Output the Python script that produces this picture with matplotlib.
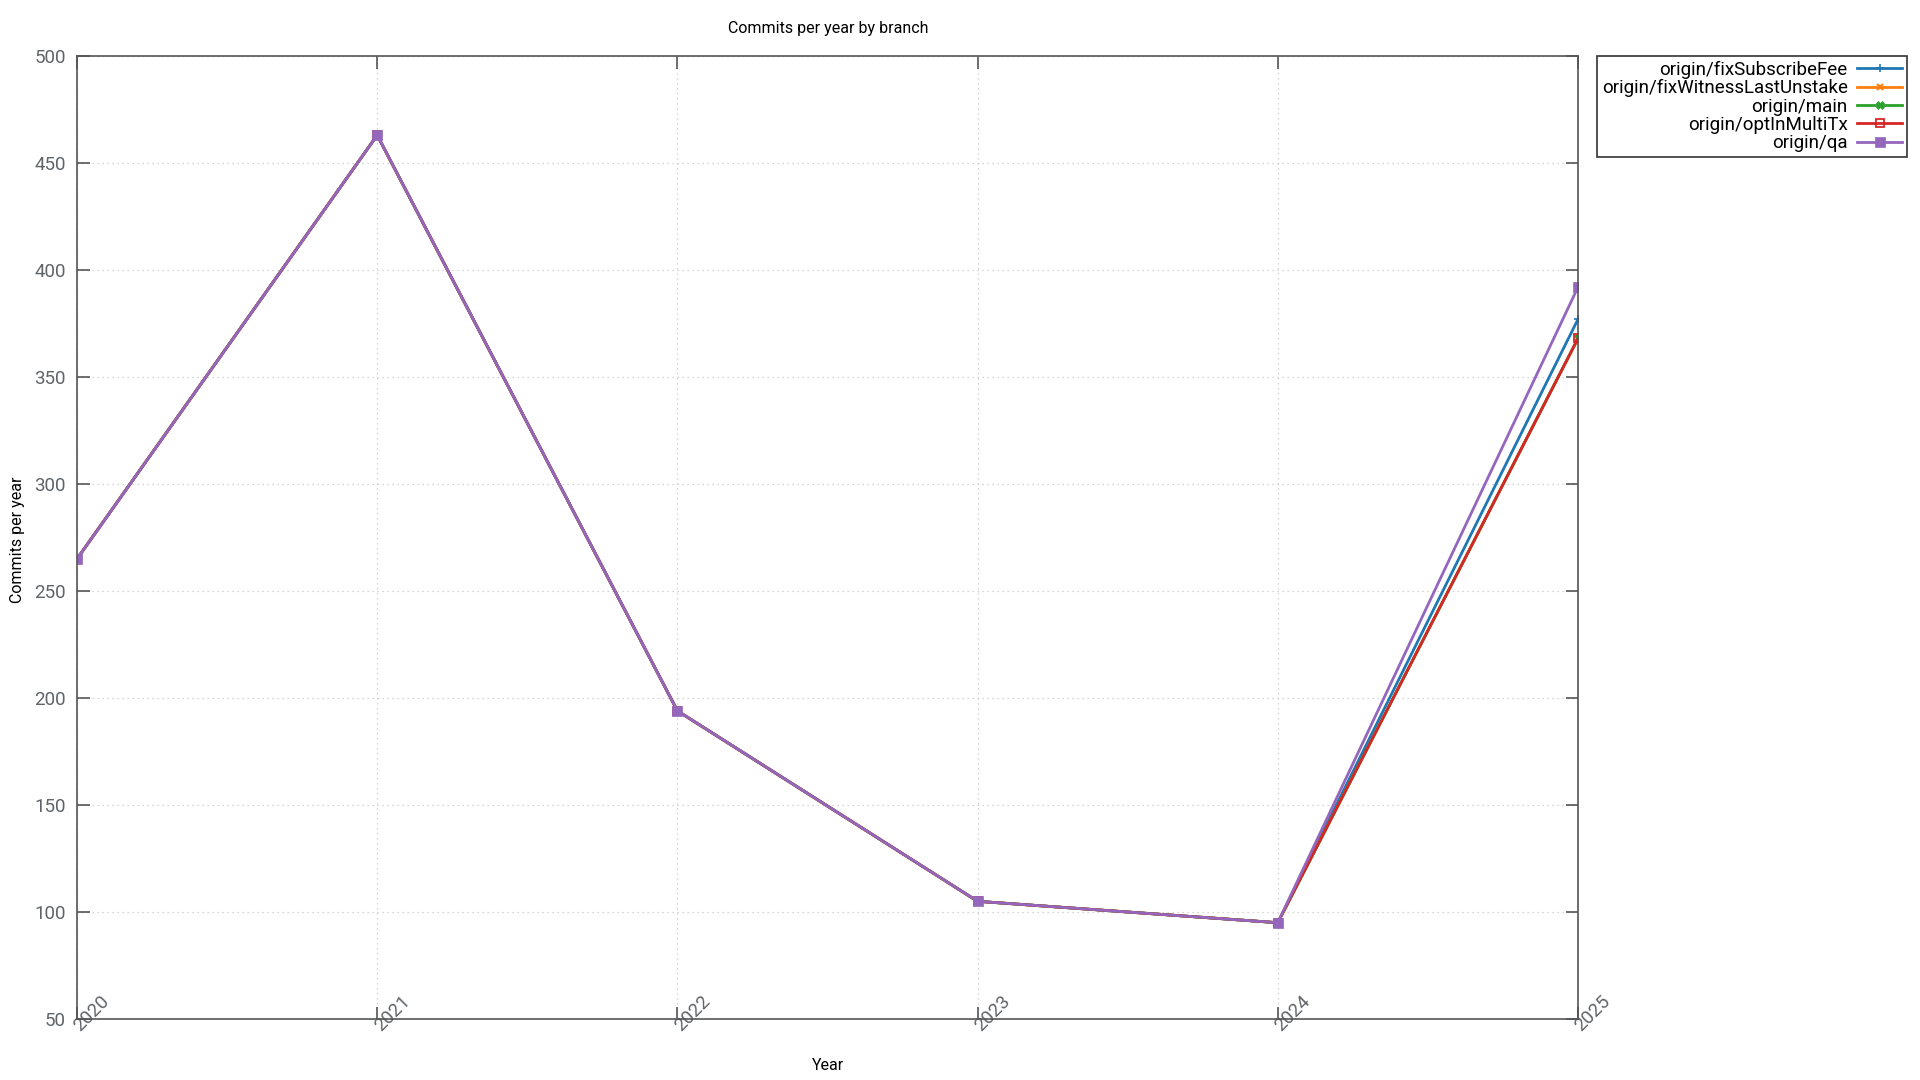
import matplotlib
matplotlib.use("Agg")
import matplotlib.pyplot as plt
from matplotlib.transforms import ScaledTranslation

plt.rcParams["font.family"] = ["Roboto", "DejaVu Sans"]

years = [2020, 2021, 2022, 2023, 2024, 2025]
branches = ["origin/fixSubscribeFee", "origin/fixWitnessLastUnstake", "origin/main",
            "origin/optInMultiTx", "origin/qa"]
fix_subscribe_fee = [265, 463, 194, 105, 95, 377]
fix_witness_last_unstake = [265, 463, 194, 105, 95, 368]
main_branch = [265, 463, 194, 105, 95, 368]
opt_in_multi_tx = [265, 463, 194, 105, 95, 368]
qa = [265, 463, 194, 105, 95, 392]
series = [fix_subscribe_fee, fix_witness_last_unstake, main_branch, opt_in_multi_tx, qa]

colors = ["#1f77b4", "#ff7f0e", "#2ca02c", "#d62728", "#9467bd"]
markers = [dict(marker="+", ms=6, mew=1.2),
           dict(marker="x", ms=5, mew=1.5),
           dict(marker="X", ms=6, mew=0.5),
           dict(marker="s", ms=6, mew=1.3, mfc="none"),
           dict(marker="s", ms=7, mew=0.5)]

fig = plt.figure(figsize=(19.2, 10.8), dpi=100)
ax = fig.add_axes([77 / 1920, 1 - 1019 / 1080, (1578 - 77) / 1920, (1019 - 56) / 1080])

for name, vals, c, m in zip(branches, series, colors, markers):
    ax.plot(years, vals, color=c, lw=2, label=name, **m)

ax.set_xlim(2020, 2025)
ax.set_ylim(50, 500)
ax.set_yticks(range(50, 501, 50))
ax.set_xticks(years)
ax.set_xticklabels([str(y) for y in years], rotation=45, ha="left", va="center",
                   rotation_mode="anchor")
# nudge rotated year labels right, like gnuplot puts them
for lbl in ax.get_xticklabels():
    lbl.set_transform(lbl.get_transform() + ScaledTranslation(4 / 100, 0, fig.dpi_scale_trans))
ax.grid(True, color="#c8c8c8", ls=(0, (1, 3)), lw=0.9)
for s in ax.spines.values():
    s.set_color("#555555")
    s.set_linewidth(1.2)
ax.tick_params(direction="in", length=9, width=1.2, color="#555555", labelcolor="#606468",
               labelsize=13.5, top=True, right=True)
ax.tick_params(axis="x", pad=7)
ax.tick_params(axis="y", pad=8)

fig.text(828 / 1920, 1 - 28 / 1080, "Commits per year by branch", ha="center", va="center",
         fontsize=11.5)
fig.text(828 / 1920, 1 - 1066 / 1080, "Year", ha="center", va="center", fontsize=11.5)
fig.text(18 / 1920, 1 - 540 / 1080, "Commits per year", ha="center", va="center",
         rotation=90, fontsize=11.5)

leg = fig.legend(loc="upper left", bbox_to_anchor=(1597 / 1920, 1 - 56 / 1080),
                 markerfirst=False, fontsize=13.5, frameon=True, fancybox=False,
                 handlelength=2.4, borderpad=0.25, labelspacing=0.02, handletextpad=0.5,
                 borderaxespad=0)
leg.get_frame().set_edgecolor("black")
leg.get_frame().set_linewidth(1.2)
for t in leg.get_texts():
    t.set_ha("right")
leg._legend_box.align = "right"

fig.savefig("out.png", dpi=100)
